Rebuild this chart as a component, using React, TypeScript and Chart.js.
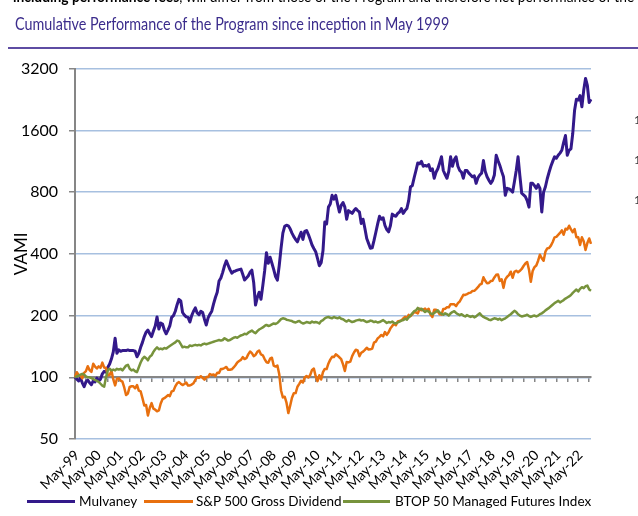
import React, { useEffect, useRef } from "react";
import { Chart, registerables } from "chart.js";

Chart.register(...registerables);

// ---------- DATA ----------
const MONTH_NAMES = ["Jan", "Feb", "Mar", "Apr", "May", "Jun", "Jul", "Aug", "Sep", "Oct", "Nov", "Dec"];

const YEAR_TICK_LABELS = [
  "May-99", "May-00", "May-01", "May-02", "May-03", "May-04", "May-05", "May-06",
  "May-07", "May-08", "May-09", "May-10", "May-11", "May-12", "May-13", "May-14",
  "May-15", "May-16", "May-17", "May-18", "May-19", "May-20", "May-21", "May-22",
];

const Y_TICKS = [50, 100, 200, 400, 800, 1600, 3200];

// Monthly VAMI, May-99 .. Dec-22 (rows = May..Apr years)
const MULVANEY = [
  100, 98, 96, 99, 94, 90, 95, 97, 94, 92, 96, 95,
  99, 96, 98, 104, 107, 106, 112, 116, 123, 133, 155, 131,
  136, 134, 135, 135, 135, 136, 135, 135, 135, 134, 126, 131,
  140, 148, 158, 166, 170, 163, 158, 168, 178, 197, 172, 184,
  182, 170, 163, 170, 178, 196, 200, 210, 226, 240, 236, 207,
  201, 197, 196, 186, 200, 210, 218, 206, 202, 210, 207, 192,
  180, 195, 203, 210, 228, 245, 260, 295, 305, 325, 350, 370,
  352, 335, 322, 328, 330, 333, 335, 337, 318, 298, 305, 312,
  325, 333, 290, 225, 245, 260, 240, 280, 330, 405, 360, 385,
  360, 335, 310, 298, 350, 425, 505, 545, 552, 548, 530, 505,
  485, 470, 458, 485, 510, 470, 515, 520, 497, 470, 442, 425,
  410, 380, 350, 362, 414, 572, 560, 676, 700, 772, 740, 772,
  700, 640, 690, 712, 676, 590, 650, 640, 630, 650, 665, 650,
  640, 563, 590, 532, 475, 450, 426, 428, 465, 510, 560, 610,
  590, 600, 550, 525, 512, 550, 625, 615, 610, 630, 640, 665,
  630, 650, 665, 727, 850, 860, 940, 1020, 1110, 1100, 1130, 1070,
  1080, 1070, 1090, 1020, 1040, 935, 1000, 1040, 1110, 1190, 1020, 975,
  935, 1010, 1190, 1070, 1150, 1190, 1070, 1020, 1000, 935, 1020, 1020,
  990, 970, 950, 960, 883, 940, 970, 990, 1140, 1010, 950, 915,
  883, 910, 970, 1210, 1140, 1080, 1010, 950, 772, 835, 830, 820,
  800, 900, 1020, 1190, 960, 790, 775, 760, 727, 676, 883, 883,
  860, 835, 870, 835, 640, 800, 850, 930, 1000, 1070, 1130, 1190,
  1170, 1210, 1240, 1280, 1400, 1510, 1210, 1280, 1300, 1550, 2007, 2270,
  2250, 2365, 2085, 2510, 2870, 2650, 2190, 2270,
];

// rows = calendar years (1999 starts in May)
const SP500_GD = [
  100, 105.8, 102.4, 101.8, 98.9, 105.1, 107.1, 113.3,
  108.4, 106.2, 116.4, 112.8, 110.4, 113.0, 111.2, 117.9, 111.6, 111.1, 102.2, 102.6,
  107.5, 97.6, 91.3, 98.3, 98.8, 96.4, 95.3, 89.2, 81.9, 83.4, 89.7, 90.4,
  90.3, 88.4, 91.7, 86.0, 85.3, 79.1, 72.8, 73.2, 65.1, 70.8, 74.8, 70.3,
  69.5, 68.3, 68.9, 74.5, 78.2, 79.1, 80.4, 81.9, 80.9, 85.3, 85.9, 90.3,
  93.5, 94.7, 93.1, 91.6, 92.7, 94.3, 91.1, 91.3, 92.2, 93.5, 97.1, 100.2,
  99.3, 101.2, 99.3, 97.3, 100.2, 100.2, 103.8, 102.6, 103.3, 101.5, 105.1, 105.0,
  109.7, 109.8, 111.0, 112.3, 108.8, 108.9, 109.4, 111.7, 114.5, 118.1, 120.0, 121.5,
  125.4, 122.7, 123.9, 129.3, 133.5, 131.1, 126.9, 128.5, 133.1, 135.1, 129.2, 128.0,
  122.7, 118.4, 117.7, 123.3, 124.6, 113.9, 112.8, 114.2, 103.8, 86.2, 79.8, 80.4,
  75.2, 66.9, 72.6, 79.4, 83.6, 83.7, 89.9, 92.9, 96.2, 94.3, 99.7, 101.5,
  99.8, 102.6, 108.6, 110.2, 101.2, 95.8, 102.3, 97.5, 106.0, 109.9, 109.7, 116.8,
  121.9, 125.8, 125.7, 129.3, 127.5, 125.2, 122.5, 115.6, 107.3, 118.8, 118.2, 119.2,
  126.9, 132.1, 136.2, 135.2, 126.7, 131.7, 133.4, 136.0, 139.3, 136.6, 136.9, 137.9,
  147.7, 149.3, 154.7, 157.5, 160.8, 158.4, 166.2, 161.0, 165.8, 173.2, 178.1, 182.3,
  179.3, 187.1, 188.4, 189.5, 193.5, 197.2, 194.2, 201.5, 198.4, 203.0, 208.0, 207.1,
  204.7, 215.9, 212.2, 214.0, 216.2, 211.7, 215.9, 202.3, 197.0, 213.3, 213.4, 209.7,
  202.9, 202.1, 215.4, 216.0, 219.3, 219.5, 227.4, 227.1, 226.8, 222.4, 230.0, 234.2,
  243.4, 252.4, 252.3, 254.6, 257.6, 258.8, 263.8, 264.0, 269.1, 275.0, 282.8, 285.5,
  307.5, 295.5, 287.6, 288.4, 294.6, 296.0, 306.7, 316.0, 317.3, 295.3, 300.6, 273.0,
  300.4, 309.4, 314.9, 327.3, 305.8, 326.8, 331.1, 325.1, 330.7, 337.5, 349.0, 358.9,
  365.1, 334.4, 292.6, 329.7, 344.6, 351.0, 370.3, 396.2, 380.7, 370.2, 410.0, 425.2,
  427.5, 438.7, 457.3, 481.3, 483.9, 494.6, 505.9, 520.6, 495.8, 530.1, 525.7, 548.6,
  526.5, 510.0, 528.2, 481.8, 481.8, 441.4, 481.6, 461.2, 418.1, 451.5, 475.7, 447.7,
];

// rows = May..Apr years
const BTOP50 = [
  100, 101, 102, 103, 104, 103, 101, 100, 100, 99, 98, 97,
  96, 95, 93, 91, 90, 100, 108, 110, 108, 109, 108, 110,
  109, 110, 108, 111, 114, 115, 110, 108, 109, 107, 106, 112,
  118, 123, 126, 124, 121, 126, 128, 133, 137, 140, 137, 138,
  137, 139, 138, 140, 142, 144, 146, 148, 151, 150, 145, 140,
  141, 140, 140, 143, 142, 143, 144, 143, 144, 143, 145, 146,
  145, 146, 147, 148, 149, 150, 151, 152, 151, 152, 155, 153,
  151, 152, 154, 156, 157, 156, 158, 160, 161, 163, 162, 165,
  167, 169, 166, 164, 168, 171, 173, 175, 178, 180, 178, 179,
  181, 183, 182, 184, 188, 192, 194, 193, 191, 190, 189, 188,
  186, 185, 187, 188, 185, 183, 184, 186, 185, 184, 187, 185,
  186, 185, 183, 188, 190, 194, 196, 197, 195, 194, 197, 195,
  194, 196, 193, 192, 189, 187, 190, 188, 186, 187, 189, 190,
  191, 189, 190, 188, 186, 187, 189, 188, 186, 187, 185, 186,
  188, 190, 187, 184, 186, 185, 187, 184, 183, 185, 187, 189,
  190, 193, 191, 196, 200, 205, 210, 212, 218, 214, 216, 212,
  208, 211, 209, 205, 203, 206, 209, 212, 207, 204, 202, 205,
  203, 200, 205, 208, 210, 206, 203, 201, 203, 200, 198, 201,
  199, 197, 199, 196, 198, 202, 205, 200, 197, 195, 193, 191,
  190, 192, 194, 193, 191, 193, 190, 192, 194, 197, 200, 203,
  207, 211, 208, 203, 200, 198, 199, 200, 202, 199, 197, 199,
  200, 198, 200, 203, 205, 208, 212, 215, 218, 222, 226, 230,
  233, 236, 232, 235, 238, 242, 245, 248, 252, 258, 263, 268,
  262, 270, 275, 272, 278, 280, 268, 264,
];

const MONTH_LABELS: string[] = MULVANEY.map((_, i) => {
  const k = 4 + i; // May 1999 = month index 4 of 1999
  const yr = (1999 + Math.floor(k / 12)) % 100;
  return `${MONTH_NAMES[k % 12]}-${String(yr).padStart(2, "0")}`;
});

const SERIES_NAMES = ["Mulvaney", "S&P 500 Gross Dividend", "BTOP 50 Managed Futures Index"];
const COLORS = ["#33198A", "#E8700F", "#77933C"];

const FONT = "Lato, 'Open Sans', sans-serif";

export default function App() {
  const ref = useRef<HTMLCanvasElement>(null);

  useEffect(() => {
    const canvas = ref.current;
    if (!canvas) return;
    const chart = new Chart(canvas, {
      type: "line",
      data: {
        labels: MONTH_LABELS,
        datasets: [
          { label: SERIES_NAMES[0], data: MULVANEY, borderColor: COLORS[0], borderWidth: 3, order: 3 },
          { label: SERIES_NAMES[1], data: SP500_GD, borderColor: COLORS[1], borderWidth: 2.5, order: 2 },
          { label: SERIES_NAMES[2], data: BTOP50, borderColor: COLORS[2], borderWidth: 2.5, order: 1 },
        ].map((d) => ({
          ...d,
          xAxisID: "x",
          yAxisID: "y",
          pointRadius: 0,
          pointHoverRadius: 0,
          tension: 0,
          fill: false,
          borderJoinStyle: "round" as const,
        })),
      },
      options: {
        responsive: false,
        animation: false,
        events: [],
        layout: { padding: { left: 0, right: 47, top: 68.7, bottom: 17 } },
        plugins: {
          legend: { display: false },
          tooltip: { enabled: false },
          title: { display: false },
        },
        scales: {
          x: {
            type: "category",
            position: "bottom",
            offset: false,
            grid: { display: false, drawTicks: false },
            border: { display: false },
            ticks: {
              autoSkip: false,
              minRotation: 45,
              maxRotation: 45,
              padding: 8,
              labelOffset: 2,
              color: "#000",
              font: { family: FONT, size: 14 },
              callback: (_v: any, i: number) => (i % 12 === 0 ? YEAR_TICK_LABELS[i / 12] : ""),
            },
            afterFit: (s: any) => {
              s.height = 60;
            },
          },
          x2: {
            type: "category",
            position: { y: 100 },
            offset: false,
            grid: {
              drawOnChartArea: false,
              drawTicks: true,
              tickLength: 4,
              lineWidth: 1.5,
              color: (c: any) => (c.index % 6 === 0 ? "#868686" : "rgba(0,0,0,0)"),
            },
            border: { display: true, color: "#868686", width: 2 },
            ticks: { display: false, autoSkip: false },
          },
          y: {
            type: "logarithmic",
            position: "left",
            min: 50,
            max: 3200,
            afterBuildTicks: (s: any) => {
              s.ticks = Y_TICKS.map((v) => ({ value: v }));
            },
            ticks: {
              color: "#000",
              padding: 11,
              font: { family: FONT, size: 16 },
              callback: (v: any) => String(v),
            },
            grid: {
              color: "#A7C0E0",
              lineWidth: 1.5,
              drawTicks: true,
              tickLength: 6,
              tickColor: "#868686",
              z: -1,
            },
            border: { display: true, color: "#868686", width: 2 },
            title: {
              display: true,
              text: "VAMI",
              color: "#000",
              font: { family: FONT, size: 17 },
              padding: { top: 11, bottom: 0 },
            },
            afterFit: (s: any) => {
              s.width = 75;
            },
          },
        },
      } as any,
    });
    return () => chart.destroy();
  }, []);

  const legendText: React.CSSProperties = {
    position: "absolute",
    top: 493,
    fontFamily: FONT,
    fontSize: 13.5,
    lineHeight: "17px",
    color: "#000",
    whiteSpace: "nowrap",
  };
  const legendLine = (left: number, width: number, color: string): React.CSSProperties => ({
    position: "absolute",
    left,
    width,
    top: 500,
    height: 3,
    background: color,
  });

  return (
    <div
      style={{
        position: "absolute",
        left: 0,
        top: 0,
        width: 638,
        height: 516,
        overflow: "hidden",
        background: "#fff",
        fontFamily: FONT,
      }}
    >
      <canvas ref={ref} width={638} height={516} style={{ position: "absolute", left: 0, top: 0 }} />
      <div
        style={{
          position: "absolute",
          left: 13,
          top: -11,
          fontSize: 15,
          lineHeight: "15px",
          whiteSpace: "nowrap",
          color: "#000",
          transform: "scaleX(0.92)",
          transformOrigin: "0 0",
        }}
      >
        <b>including performance fees</b>, will differ from those of the Program and therefore net performance of the Public Fund.
      </div>
      <div
        style={{
          position: "absolute",
          left: 15,
          top: 13,
          fontSize: 17,
          lineHeight: "21px",
          whiteSpace: "nowrap",
          color: "#3B2C8C",
          transform: "scaleX(0.845)",
          transformOrigin: "0 0",
        }}
      >
        Cumulative Performance of the Program since inception in May 1999
      </div>
      <div style={{ position: "absolute", left: 8, right: 0, top: 47, height: 2, background: "#5E4CA3" }} />
      {[112, 152, 192].map((t) => (
        <div key={t} style={{ position: "absolute", left: 634, top: t, fontSize: 12, color: "#333" }}>
          1
        </div>
      ))}
      <div style={legendLine(27, 48, COLORS[0])} />
      <div style={{ ...legendText, left: 79 }}>{SERIES_NAMES[0]}</div>
      <div style={legendLine(144, 49, COLORS[1])} />
      <div style={{ ...legendText, left: 196 }}>{SERIES_NAMES[1]}</div>
      <div style={legendLine(343, 47, COLORS[2])} />
      <div style={{ ...legendText, left: 395 }}>{SERIES_NAMES[2]}</div>
    </div>
  );
}
